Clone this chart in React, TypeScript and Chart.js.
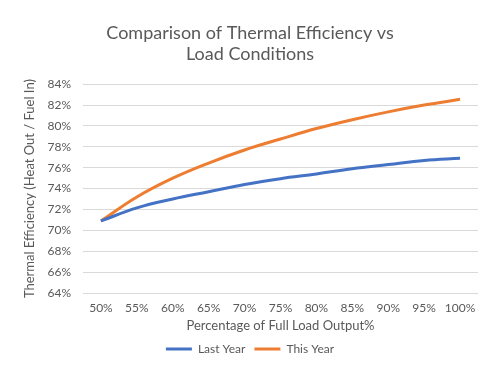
import React, { useEffect, useRef } from "react";
import { Chart, registerables } from "chart.js";

Chart.register(...registerables);

const categories = ["50%", "55%", "60%", "65%", "70%", "75%", "80%", "85%", "90%", "95%", "100%"];
const lastYear = [70.9, 72.15, 73.0, 73.7, 74.4, 74.95, 75.4, 75.9, 76.3, 76.7, 76.9];
const thisYear = [70.9, 73.2, 75.0, 76.45, 77.7, 78.75, 79.75, 80.6, 81.35, 82.0, 82.55];
const titleLines = ["Comparison of Thermal Efficiency vs", "Load Conditions"];
const yTitle = "Thermal Efficiency (Heat Out / Fuel In)";
const xTitle = "Percentage of Full Load Output%";

const FONT = "Lato, 'Open Sans', sans-serif";
const GREY = "#595959";

export default function App() {
  const ref = useRef<HTMLCanvasElement>(null);
  useEffect(() => {
    document.body.style.margin = "0";
    const chart = new Chart(ref.current!, {
      type: "line",
      data: {
        labels: categories,
        datasets: [
          {
            label: "Last Year",
            data: lastYear,
            borderColor: "#4472C4",
            backgroundColor: "#4472C4",
            borderWidth: 3,
            pointRadius: 0,
            tension: 0.4,
          },
          {
            label: "This Year",
            data: thisYear,
            borderColor: "#ED7D31",
            backgroundColor: "#ED7D31",
            borderWidth: 3,
            pointRadius: 0,
            tension: 0.4,
          },
        ],
      },
      options: {
        responsive: false,
        animation: false,
        layout: { padding: { left: 22, right: 26, top: 22, bottom: 13 } },
        plugins: {
          title: {
            display: true,
            text: titleLines,
            color: GREY,
            font: { family: FONT, size: 18, weight: "normal" },
            padding: { top: 0, bottom: 19 },
            lineHeight: 1.1,
          },
          legend: {
            position: "bottom",
            labels: {
              color: GREY,
              font: { family: FONT, size: 12 },
              usePointStyle: true,
              pointStyle: "line",
              pointStyleWidth: 26,
              boxWidth: 26,
              padding: 9,
            },
          },
          tooltip: { enabled: false },
        },
        scales: {
          x: {
            offset: true,
            grid: { display: false },
            border: { display: false },
            ticks: { color: GREY, font: { family: FONT, size: 12 }, maxRotation: 0, padding: 0 },
            title: { display: true, text: xTitle, color: GREY, font: { family: FONT, size: 13 }, padding: { top: 3, bottom: 0 } },
          },
          y: {
            min: 64,
            max: 84,
            afterFit: (s: any) => {
              s.width = 61;
            },
            grid: { color: "#D9D9D9", drawTicks: false },
            border: { display: false },
            ticks: {
              stepSize: 2,
              color: GREY,
              font: { family: FONT, size: 12 },
              padding: 12,
              callback: (v: any) => v + "%",
            },
            title: { display: true, text: yTitle, color: GREY, font: { family: FONT, size: 13 }, padding: { top: 0, bottom: 0 } },
          },
        },
      },
    });
    return () => chart.destroy();
  }, []);
  return (
    <div style={{ position: "absolute", left: 0, top: 0, width: 504, height: 378, background: "#fff" }}>
      <canvas ref={ref} width={504} height={378} />
    </div>
  );
}
